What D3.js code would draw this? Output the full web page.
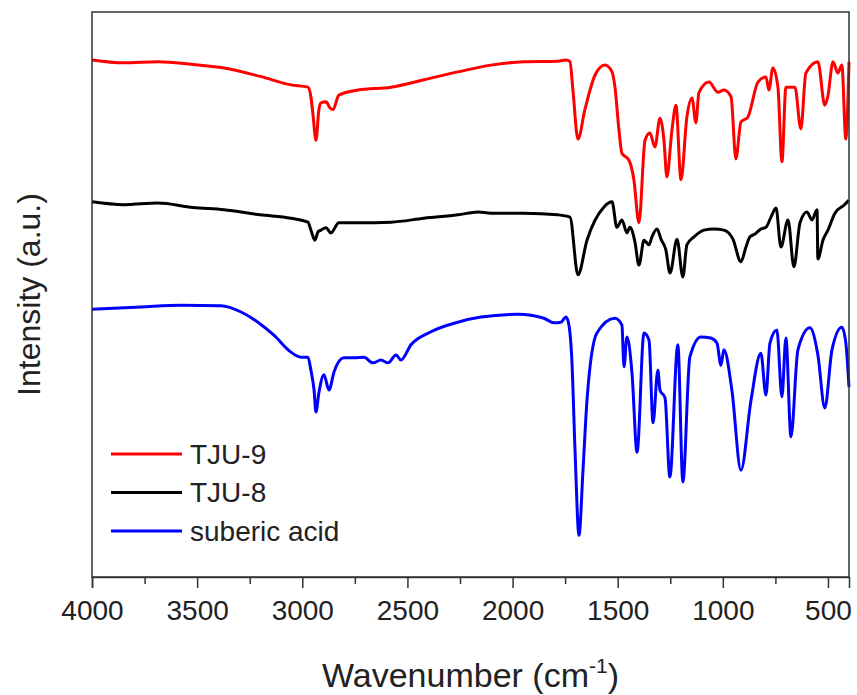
<!DOCTYPE html>
<html>
<head>
<meta charset="utf-8">
<script src="https://cdn.jsdelivr.net/npm/d3@7"></script>
<style>
  body { margin: 0; background: #fff; }
  text { font-family: "Liberation Sans", Arial, sans-serif; fill: #222; }
</style>
</head>
<body>
<svg id="chart"></svg>
<script>
const width = 857,
  height = 695;

// series names + colours (legend order)
const seriesNames = ["TJU-9", "TJU-8", "suberic acid"];
const seriesColors = ["#ff0000", "#000000", "#0000ff"];

// x ticks (cm-1)
const xTicks = [4000, 3500, 3000, 2500, 2000, 1500, 1000, 500];

// TJU-9 (red)
const tju9Wave = [4000, 3850, 3686, 3520, 3372, 3200, 3054, 2973, 2959, 2949, 2935, 2921, 2911, 2887, 2868, 2854, 2826, 2735, 2578, 2421, 2260, 2103, 1946, 1784, 1746, 1727, 1713, 1689, 1656, 1608, 1561, 1527, 1513, 1494, 1480, 1447, 1423, 1399, 1370, 1347, 1323, 1299, 1280, 1266, 1242, 1223, 1199, 1171, 1147, 1128, 1114, 1066, 1023, 995, 961, 938, 914, 881, 833, 795, 781, 762, 738, 719, 700, 657, 629, 605, 548, 515, 501, 476, 453, 434, 415, 400];
const tju9Int = [91.5, 91.0, 91.2, 90.7, 90.1, 88.6, 87.1, 86.7, 85.0, 81.8, 77.3, 82.7, 83.9, 84.1, 83.0, 82.7, 85.3, 86.2, 86.7, 88.0, 89.4, 90.6, 91.2, 91.3, 91.5, 91.2, 86.2, 77.5, 82.7, 88.8, 90.6, 89.4, 86.7, 79.1, 75.0, 73.8, 70.3, 62.7, 77.3, 78.6, 76.1, 81.2, 77.3, 70.8, 79.1, 83.5, 70.3, 81.4, 84.8, 80.4, 85.7, 87.6, 85.8, 86.2, 85.0, 74.0, 80.5, 81.4, 87.6, 88.5, 86.2, 90.1, 86.7, 73.5, 86.7, 86.7, 79.3, 89.2, 91.2, 83.5, 85.0, 91.2, 89.2, 90.6, 77.5, 91.2];

// TJU-8 (black)
const tju8Wave = [4000, 3850, 3686, 3520, 3372, 3200, 3054, 2973, 2959, 2940, 2925, 2911, 2887, 2864, 2826, 2735, 2578, 2421, 2260, 2164, 2103, 1946, 1784, 1727, 1689, 1646, 1565, 1527, 1504, 1480, 1456, 1442, 1418, 1399, 1375, 1351, 1337, 1313, 1294, 1271, 1251, 1218, 1190, 1171, 1137, 1090, 1042, 995, 952, 914, 890, 871, 847, 819, 795, 771, 747, 724, 690, 662, 633, 600, 576, 552, 548, 524, 500, 467, 424, 400];
const tju8Int = [66.4, 65.9, 66.2, 65.4, 65.0, 64.1, 63.5, 62.8, 61.4, 59.6, 61.1, 61.4, 61.8, 60.9, 62.7, 62.7, 62.8, 63.5, 64.1, 64.6, 64.4, 64.4, 64.1, 63.7, 53.5, 59.6, 65.5, 66.4, 61.9, 63.2, 60.9, 61.9, 59.3, 55.2, 59.6, 58.8, 60.2, 61.6, 59.8, 57.9, 53.8, 59.8, 53.1, 58.8, 60.2, 61.4, 61.6, 61.4, 59.8, 55.8, 58.4, 60.2, 60.7, 61.6, 61.9, 63.7, 65.3, 58.4, 63.2, 54.9, 62.7, 64.6, 63.2, 65.0, 56.3, 59.6, 61.4, 64.4, 65.8, 66.7];

// suberic acid (blue)
const subericWave = [4000, 3767, 3577, 3387, 3291, 3211, 3135, 3054, 3006, 2973, 2959, 2944, 2935, 2921, 2897, 2873, 2849, 2802, 2754, 2707, 2664, 2626, 2592, 2554, 2531, 2483, 2388, 2260, 2150, 1974, 1851, 1803, 1770, 1746, 1732, 1718, 1703, 1684, 1665, 1646, 1599, 1513, 1480, 1470, 1456, 1432, 1408, 1375, 1351, 1332, 1309, 1299, 1275, 1252, 1214, 1190, 1157, 1104, 1057, 1028, 1009, 995, 957, 914, 866, 819, 795, 776, 743, 719, 700, 676, 643, 586, 548, 515, 481, 434, 415, 400];
const subericInt = [47.4, 47.8, 48.1, 48.0, 46.9, 45.1, 42.8, 39.8, 38.9, 38.9, 36.6, 33.1, 29.2, 32.6, 35.8, 33.1, 36.3, 38.8, 38.8, 38.9, 37.9, 38.4, 37.9, 39.3, 38.4, 41.1, 43.4, 45.1, 46.0, 46.5, 45.8, 45.0, 45.1, 46.0, 44.6, 38.4, 22.5, 7.4, 18.9, 31.3, 43.2, 45.8, 44.6, 37.2, 42.5, 36.1, 22.1, 43.2, 41.9, 27.3, 36.6, 33.1, 31.7, 17.7, 41.1, 16.8, 38.9, 42.5, 42.3, 41.4, 37.5, 40.2, 33.1, 18.9, 31.3, 39.6, 32.2, 41.4, 43.7, 31.9, 42.3, 24.8, 40.2, 44.1, 39.3, 29.9, 40.2, 44.2, 41.4, 33.6];

const series = [
  { name: seriesNames[0], color: seriesColors[0], w: tju9Wave, v: tju9Int },
  { name: seriesNames[1], color: seriesColors[1], w: tju8Wave, v: tju8Int },
  { name: seriesNames[2], color: seriesColors[2], w: subericWave, v: subericInt }
];

const margin = { top: 12, right: 8, bottom: 118, left: 92 };
const x0 = margin.left, x1 = width - margin.right,
  y0 = height - margin.bottom, y1 = margin.top;

const x = d3.scaleLinear().domain([4000, 400]).range([x0, x1]);
const y = d3.scaleLinear().domain([0, 100]).range([y0, y1]);

const svg = d3.select("#chart")
  .attr("width", width)
  .attr("height", height);

// spectra
const line = d3.line()
  .curve(d3.curveMonotoneX)
  .x(d => x(d[0]))
  .y(d => y(d[1]));

svg.append("g")
  .selectAll("path")
  .data(series)
  .enter().append("path")
    .attr("fill", "none")
    .attr("stroke", d => d.color)
    .attr("stroke-width", 3)
    .attr("stroke-linejoin", "round")
    .attr("d", d => line(d.w.map((w, i) => [w, d.v[i]])));

// frame
svg.append("rect")
  .attr("x", x0).attr("y", y1)
  .attr("width", x1 - x0).attr("height", y0 - y1)
  .attr("fill", "none")
  .attr("stroke", "#333")
  .attr("stroke-width", 1.5);

// minor ticks
const minor = d3.range(3750, 400, -500);
svg.append("g")
    .attr("transform", "translate(0," + y0 + ")")
    .call(d3.axisBottom(x).tickValues(minor).tickSize(7).tickFormat(""))
    .call(g => g.select(".domain").remove())
    .call(g => g.selectAll("line").attr("stroke", "#333").attr("stroke-width", 1.5));

// major ticks
const xAxis = svg.append("g")
    .attr("transform", "translate(0," + y0 + ")")
    .call(d3.axisBottom(x).tickValues(xTicks).tickSize(11).tickPadding(12).tickFormat(d3.format("d")));
xAxis.select(".domain").attr("stroke", "#333").attr("stroke-width", 1.5);
xAxis.selectAll("line").attr("stroke", "#333").attr("stroke-width", 1.5);
xAxis.selectAll("text")
  .style("font-size", "28px")
  .style("font-family", "'Liberation Sans', Arial, sans-serif")
  .attr("fill", "#222");

// axis titles
const xt = svg.append("text")
  .attr("x", (x0 + x1) / 2)
  .attr("y", 687)
  .attr("text-anchor", "middle")
  .style("font-size", "34px");
xt.append("tspan").text("Wavenumber (cm");
xt.append("tspan").attr("dy", -14).style("font-size", "21px").text("-1");
xt.append("tspan").attr("dy", 14).text(")");

svg.append("text")
  .attr("transform", "translate(40," + ((y0 + y1) / 2) + ") rotate(-90)")
  .attr("text-anchor", "middle")
  .style("font-size", "32px")
  .text("Intensity (a.u.)");

// legend
const legend = svg.append("g")
  .selectAll("g")
  .data(series)
  .enter().append("g")
    .attr("transform", (d, i) => "translate(111," + (454 + i * 38.5) + ")");
legend.append("line")
  .attr("x1", 0).attr("x2", 71)
  .attr("stroke", d => d.color)
  .attr("stroke-width", 3);
legend.append("text")
  .attr("x", 79)
  .attr("dy", "0.35em")
  .style("font-size", "28px")
  .text(d => d.name);
</script>
</body>
</html>
